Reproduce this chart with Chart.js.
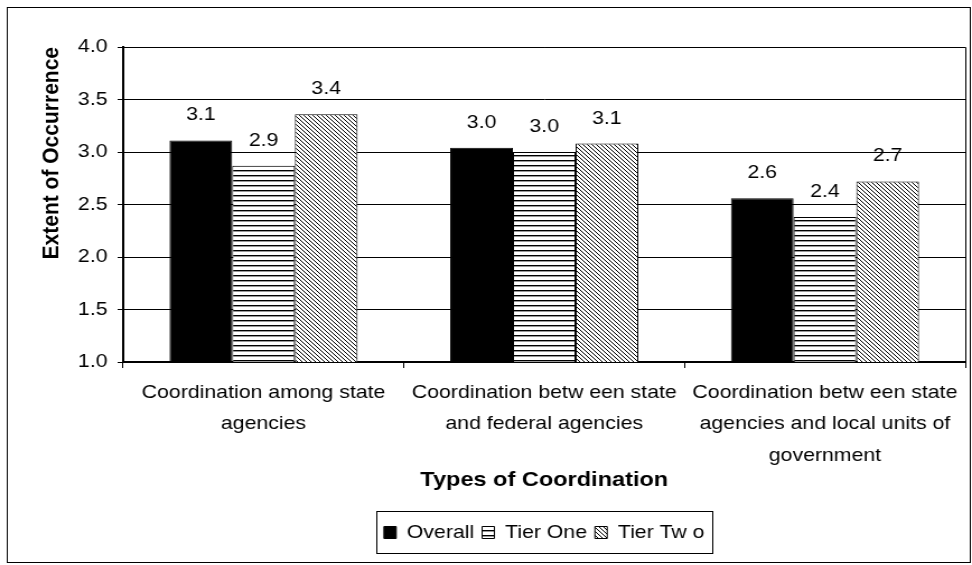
<!DOCTYPE html>
<html>
<head>
<meta charset="utf-8">
<title>Types of Coordination</title>
<script src="https://cdn.jsdelivr.net/npm/chart.js@4/dist/chart.umd.min.js"></script>
<style>
  html, body { margin: 0; padding: 0; background: #fff; }
  #chart { display: block; }
</style>
</head>
<body>
<!-- the original chart is stretched sideways, so the canvas is drawn narrow and widened -->
<canvas id="chart" width="868" height="565" style="width: 972px; height: 565px;"></canvas>
<script>
// Chart data
const categories = [
    ['Coordination among state', 'agencies'],
    ['Coordination betw een state', 'and federal agencies'],
    ['Coordination betw een state', 'agencies and local units of', 'government']
];
const seriesNames = ['Overall', 'Tier One', 'Tier Tw o'];
const overallValues = [3.11, 3.04, 2.56];
const tierOneValues = [2.87, 3.00, 2.38];
const tierTwoValues = [3.36, 3.08, 2.72];
const yMin = 1.0;
const yMax = 4.0;
const yStep = 0.5;

const FONT = '"Liberation Sans", Arial, sans-serif';

// Hatch fills used by the bars and the legend swatches
function makePattern(kind) {
    const c = document.createElement('canvas');
    const ctx = c.getContext('2d');
    if (kind === 'hlines') {
        c.width = 8; c.height = 5;
        ctx.fillStyle = '#fff';
        ctx.fillRect(0, 0, 8, 5);
        ctx.fillStyle = '#000';
        ctx.fillRect(0, 0, 8, 1);
        ctx.fillStyle = '#999';
        ctx.fillRect(0, 1, 8, 1);
    } else {
        c.width = 4; c.height = 4;
        ctx.fillStyle = '#fff';
        ctx.fillRect(0, 0, 4, 4);
        ctx.fillStyle = '#000';
        for (let i = 0; i < 4; i++) ctx.fillRect(i, i, 1, 1);
    }
    return ctx.createPattern(c, 'repeat');
}

// Value labels above each bar
const barValueLabels = {
    id: 'barValueLabels',
    afterDatasetsDraw(chart) {
        const ctx = chart.ctx;
        ctx.save();
        ctx.font = '19px ' + FONT;
        ctx.fillStyle = '#000';
        ctx.textAlign = 'center';
        ctx.textBaseline = 'alphabetic';
        chart.data.datasets.forEach((ds, i) => {
            chart.getDatasetMeta(i).data.forEach((bar, j) => {
                ctx.fillText(ds.data[j].toFixed(1), bar.x, bar.y - 20);
            });
        });
        ctx.restore();
    }
};

// Outer frame, plot frame and the box round the legend
const frames = {
    id: 'frames',
    afterDraw(chart) {
        const ctx = chart.ctx;
        const area = chart.chartArea;
        ctx.save();
        ctx.strokeStyle = '#000';
        ctx.lineWidth = 1;
        ctx.strokeRect(6.5, 7.5, 860, 555);
        ctx.beginPath();
        ctx.moveTo(area.left, area.top + 0.5);
        ctx.lineTo(area.right + 0.5, area.top + 0.5);
        ctx.lineTo(area.right + 0.5, area.bottom);
        ctx.stroke();

        const boxes = chart.legend.legendHitBoxes;
        if (boxes && boxes.length) {
            const left = Math.min(...boxes.map(b => b.left));
            const right = Math.max(...boxes.map(b => b.left + b.width));
            const top = Math.min(...boxes.map(b => b.top));
            const bottom = Math.max(...boxes.map(b => b.top + b.height));
            ctx.strokeRect(Math.round(left - 7) + 0.5, Math.round(top - 12) + 0.5,
                Math.round(right - left + 14), Math.round(bottom - top + 23));
        }
        ctx.restore();
    }
};

class CoordinationChart {
    constructor() {
        this.canvas = document.getElementById('chart');
        this.initPatterns();
        this.initChart();
    }

    initPatterns() {
        this.fills = ['#000', makePattern('hlines'), makePattern('diag')];
    }

    getChartData() {
        const values = [overallValues, tierOneValues, tierTwoValues];
        return {
            labels: categories,
            datasets: seriesNames.map((name, i) => ({
                label: name,
                data: values[i],
                backgroundColor: this.fills[i],
                borderColor: '#000',
                borderWidth: 1,
                borderSkipped: false,
                categoryPercentage: 0.67,
                barPercentage: 1.0
            }))
        };
    }

    getChartOptions() {
        return {
            responsive: false,
            animation: false,
            layout: { padding: { top: 47, right: 6, bottom: 13, left: 0 } },
            plugins: {
                legend: {
                    position: 'bottom',
                    fullSize: false,
                    labels: {
                        color: '#000',
                        font: { family: FONT, size: 19 },
                        boxWidth: 11,
                        boxHeight: 12,
                        padding: 7
                    }
                },
                tooltip: { enabled: false }
            },
            scales: {
                x: {
                    offset: true,
                    grid: {
                        offset: true,
                        drawOnChartArea: false,
                        drawTicks: true,
                        tickLength: 6,
                        color: '#000'
                    },
                    border: { color: '#000', width: 2 },
                    ticks: {
                        color: '#000',
                        padding: 9,
                        maxRotation: 0,
                        autoSkip: false,
                        font: { family: FONT, size: 19, lineHeight: 1.65 }
                    },
                    title: {
                        display: true,
                        text: 'Types of Coordination',
                        color: '#000',
                        padding: { top: 0, bottom: 23 },
                        font: { family: FONT, size: 21, weight: 'bold' }
                    },
                    afterFit: (scale) => { scale.height = 154; }
                },
                y: {
                    min: yMin,
                    max: yMax,
                    grid: { color: '#000', lineWidth: 1, tickLength: 5 },
                    border: { color: '#000', width: 2 },
                    ticks: {
                        stepSize: yStep,
                        color: '#000',
                        padding: 9,
                        font: { family: FONT, size: 19 },
                        callback: (v) => Number(v).toFixed(1)
                    },
                    title: {
                        display: true,
                        text: 'Extent of Occurrence',
                        align: 'end',
                        color: '#000',
                        padding: { top: 34, bottom: 0 },
                        font: { family: FONT, size: 21, weight: 'bold' }
                    },
                    afterFit: (scale) => { scale.width = 110; }
                }
            }
        };
    }

    initChart() {
        this.chart = new Chart(this.canvas, {
            type: 'bar',
            data: this.getChartData(),
            options: this.getChartOptions(),
            plugins: [barValueLabels, frames]
        });
    }
}

new CoordinationChart();
</script>
</body>
</html>
